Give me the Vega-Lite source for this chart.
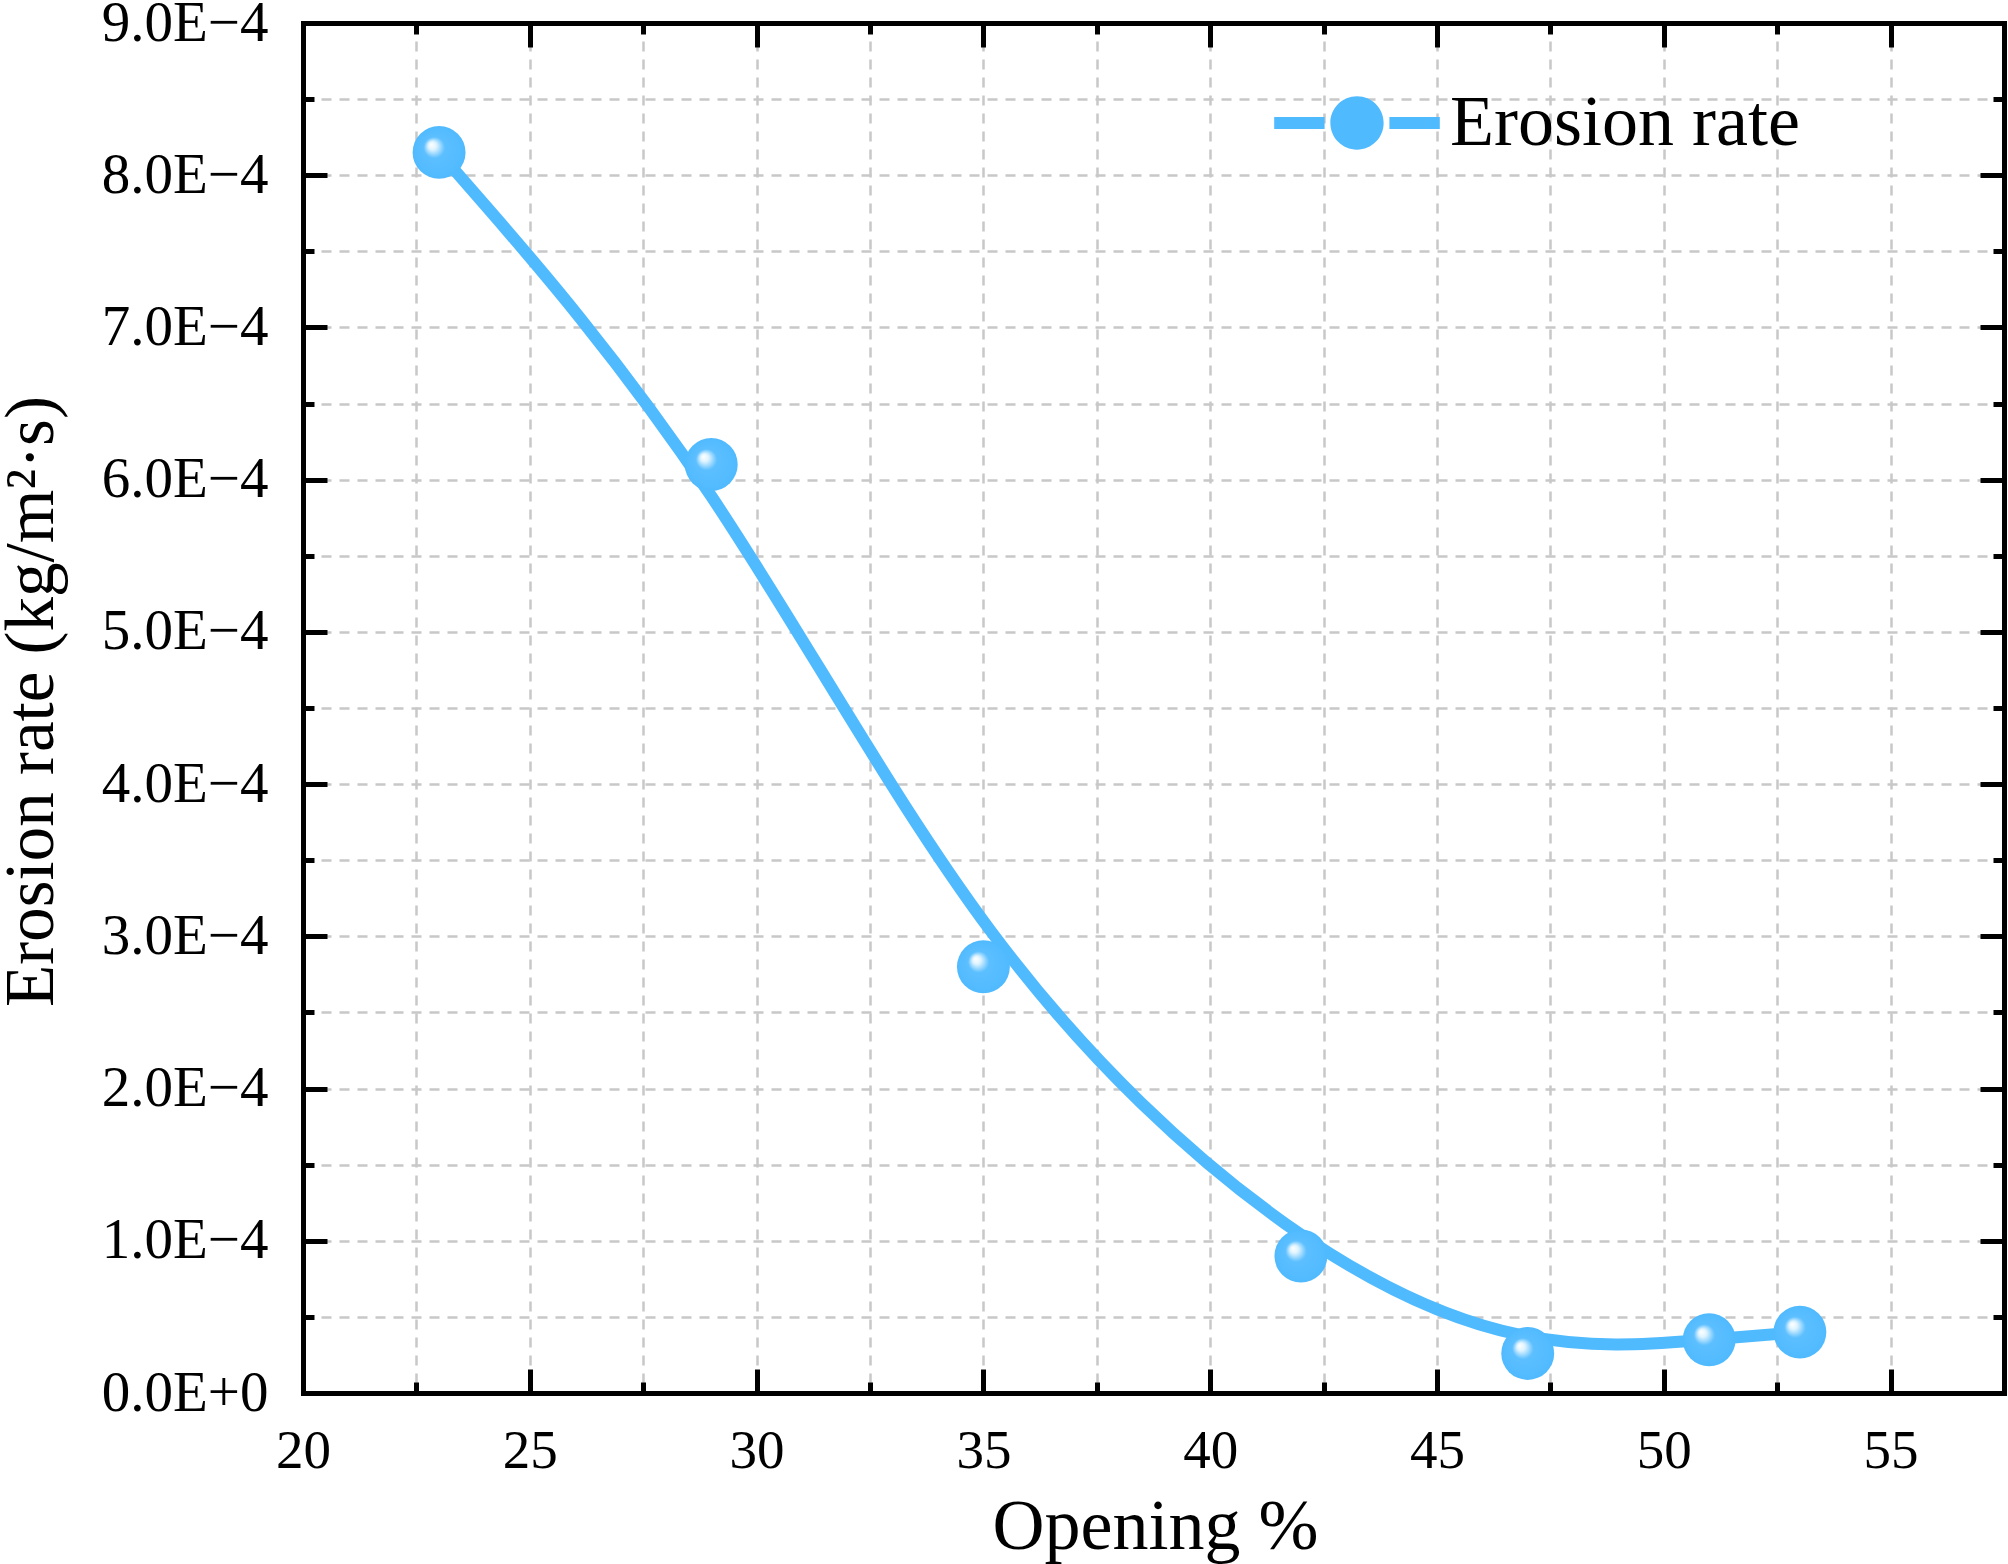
{
  "$schema": "https://vega.github.io/schema/vega-lite/v6.json",
  "width": 1701,
  "height": 1370,
  "autosize": {"type": "none"},
  "padding": {"left": 303, "top": 23, "right": 4, "bottom": 171},
  "background": "white",
  "config": {
    "view": {"stroke": null},
    "font": "Liberation Serif",
    "axis": {
      "labelFont": "Liberation Serif",
      "titleFont": "Liberation Serif",
      "labelColor": "black",
      "titleColor": "black",
      "titleFontWeight": "normal",
      "domainColor": "black",
      "domainWidth": 5,
      "domainCap": "square",
      "tickColor": "black",
      "tickWidth": 5
    }
  },
  "data": {
    "values": [
      {"opening": 23, "rate": 0.000815, "series": "Erosion rate"},
      {"opening": 29, "rate": 0.00061, "series": "Erosion rate"},
      {"opening": 35, "rate": 0.00028, "series": "Erosion rate"},
      {"opening": 42, "rate": 0.00009, "series": "Erosion rate"},
      {"opening": 47, "rate": 0.000026, "series": "Erosion rate"},
      {"opening": 51, "rate": 0.000035, "series": "Erosion rate"},
      {"opening": 53, "rate": 0.00004, "series": "Erosion rate"}
    ]
  },
  "layer": [
    {
      "mark": {"type": "line", "interpolate": "basis", "strokeWidth": 12, "strokeCap": "round"},
      "encoding": {
        "x": {
          "field": "opening", "type": "quantitative",
          "scale": {"domain": [20, 57.5], "nice": false, "zero": false},
          "axis": {
            "orient": "bottom",
            "title": "Opening %",
            "titleFontSize": 72,
            "titleX": 852,
            "titleY": 155,
            "titleBaseline": "alphabetic",
            "titleAlign": "center",
            "values": [20, 22.5, 25, 27.5, 30, 32.5, 35, 37.5, 40, 42.5, 45, 47.5, 50, 52.5, 55],
            "labelExpr": "datum.value % 5 == 0 ? datum.label : ''",
            "labelFontSize": 55,
            "labelBaseline": "alphabetic",
            "labelPadding": 98,
            "labelFlush": false,
            "labelOverlap": false,
            "tickSize": {"condition": {"test": "datum.value % 5 == 0", "value": -24}, "value": -11},
            "grid": true,
            "gridColor": "#c8c8c8",
            "gridDash": [10, 8],
            "gridWidth": 2.5
          }
        },
        "y": {
          "field": "rate", "type": "quantitative",
          "scale": {"domain": [0, 0.0009], "nice": false, "zero": false},
          "axis": {
            "orient": "left",
            "title": "Erosion rate (kg/m²·s)",
            "titleFontSize": 69,
            "titleX": -272,
            "titleY": 678,
            "titleAngle": 270,
            "titleBaseline": "middle",
            "titleAlign": "center",
            "values": [0, 0.00005, 0.0001, 0.00015, 0.0002, 0.00025, 0.0003, 0.00035, 0.0004, 0.00045, 0.0005, 0.00055, 0.0006, 0.00065, 0.0007, 0.00075, 0.0008, 0.00085, 0.0009],
            "labelExpr": "datum.value == 0 ? '0.0E+0' : (round(datum.value*20000) % 2 == 0 ? format(datum.value*10000, '.1f') + 'E−4' : '')",
            "labelFontSize": 57,
            "labelPadding": 59,
            "labelFlush": false,
            "labelOverlap": false,
            "tickSize": {"condition": {"test": "round(datum.value*20000) % 2 == 0", "value": -24}, "value": -11},
            "grid": true,
            "gridColor": "#c8c8c8",
            "gridDash": [10, 8],
            "gridWidth": 2.5
          }
        },
        "color": {
          "field": "series", "type": "nominal",
          "scale": {"range": ["#50baff"]},
          "legend": {
            "title": null,
            "orient": "none",
            "legendX": 1018,
            "legendY": 64,
            "padding": 0,
            "symbolType": "M-2.3,-0.17H-0.9V0.17H-2.3Z M0.9,-0.17H2.3V0.17H0.9Z M-0.74,0A0.74,0.74 0 1,1 0.74,0A0.74,0.74 0 1,1 -0.74,0Z",
            "symbolSize": 5184,
            "symbolStrokeWidth": 0,
            "symbolFillColor": "#50baff",
            "labelFont": "Liberation Serif",
            "labelFontSize": 72,
            "labelColor": "black",
            "labelOffset": 57,
            "labelLimit": 0,
            "encode": {"symbols": {"update": {"fill": {"value": "#50baff"}, "stroke": {"value": "#50baff"}, "strokeWidth": {"value": 0}}}}
          }
        }
      }
    },
    {
      "mark": {
        "type": "point",
        "filled": true,
        "size": 2800,
        "strokeWidth": 0,
        "opacity": 1,
        "fill": {
          "gradient": "radial",
          "x1": 0.35, "y1": 0.35, "r1": 0,
          "x2": 0.5, "y2": 0.5, "r2": 0.5,
          "stops": [
            {"offset": 0, "color": "#ffffff"},
            {"offset": 0.15, "color": "#e0f4ff"},
            {"offset": 0.4, "color": "#5cbfff"},
            {"offset": 1, "color": "#50baff"}
          ]
        }
      },
      "encoding": {
        "x": {
          "field": "opening", "type": "quantitative",
          "axis": {
            "orient": "top",
            "title": null,
            "labels": false,
            "grid": false,
            "values": [20, 22.5, 25, 27.5, 30, 32.5, 35, 37.5, 40, 42.5, 45, 47.5, 50, 52.5, 55],
            "tickSize": {"condition": {"test": "datum.value % 5 == 0", "value": -24}, "value": -11}
          }
        },
        "y": {
          "field": "rate", "type": "quantitative",
          "axis": {
            "orient": "right",
            "title": null,
            "labels": false,
            "grid": false,
            "values": [0, 0.00005, 0.0001, 0.00015, 0.0002, 0.00025, 0.0003, 0.00035, 0.0004, 0.00045, 0.0005, 0.00055, 0.0006, 0.00065, 0.0007, 0.00075, 0.0008, 0.00085, 0.0009],
            "tickSize": {"condition": {"test": "round(datum.value*20000) % 2 == 0", "value": -24}, "value": -11}
          }
        }
      }
    }
  ],
  "resolve": {"axis": {"x": "independent", "y": "independent"}}
}
